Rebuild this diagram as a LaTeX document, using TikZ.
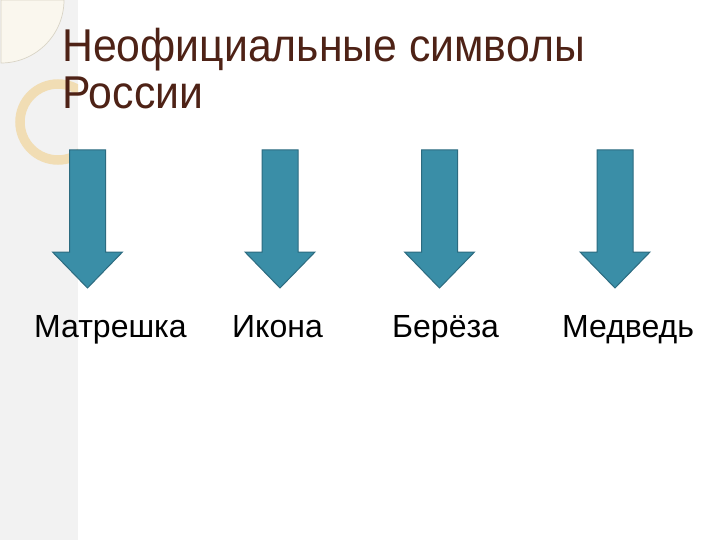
\documentclass[tikz,border=0pt]{standalone}
\usepackage{fontspec}
\setmainfont{Liberation Sans}
\usetikzlibrary{arrows.meta}
\definecolor{strip}{HTML}{F2F2F2}
\definecolor{cream}{HTML}{FAF7EE}
\definecolor{cornerline}{HTML}{D9D4C6}
\definecolor{ringc}{HTML}{F1DDB4}
\definecolor{titlec}{HTML}{4E2216}
\definecolor{arrowfill}{HTML}{3A8EA7}
\definecolor{arrowline}{HTML}{2C6B80}

\begin{document}
\begin{tikzpicture}[x=1pt, y=-1pt,
    lab/.style={anchor=base west, inner sep=0pt, font=\fontsize{32}{38}\selectfont},
    ttl/.style={anchor=base west, inner sep=0pt, text=titlec, font=\fontsize{46}{55}\selectfont},
    blockarrow/.style={fill=arrowfill, draw=arrowline, line width=1pt, line join=miter}]
  \useasboundingbox (0,0) rectangle (720,540);
  \fill[white] (0,0) rectangle (720,540);
  % left strip with its corner piece and ring
  \fill[strip] (0,0) rectangle (78,540);
  \filldraw[fill=cream, draw=cornerline, line width=0.7pt] (1,0) -- (64,0) arc (0:90:63) -- cycle;
  \begin{scope}
    \clip (0,60) rectangle (78,180);
    \draw[ringc, line width=9.5pt] (58,122) circle (38);
  \end{scope}
  % title
  \node[ttl] (title1) at (62,62) {\scalebox{0.93}[1]{Неофициальные символы}};
  \node[ttl] (title2) at (62,109) {\scalebox{0.93}[1]{России}};
  % arrows pointing down to the labels
  \foreach \cx in {87.5, 280, 439.5, 615}{
    \draw[blockarrow] (\cx-18,150) -- (\cx+18,150) -- (\cx+18,252) -- (\cx+35,252)
      -- (\cx,288) -- (\cx-35,252) -- (\cx-18,252) -- cycle;
  }
  \foreach \x/\name/\txt in {34/matr/Матрешка, 232/ikona/Икона, 392/bereza/Берёза, 562/medved/Медведь}{
    \node[lab] (\name) at (\x,337) {\txt};
  }
\end{tikzpicture}
\end{document}
